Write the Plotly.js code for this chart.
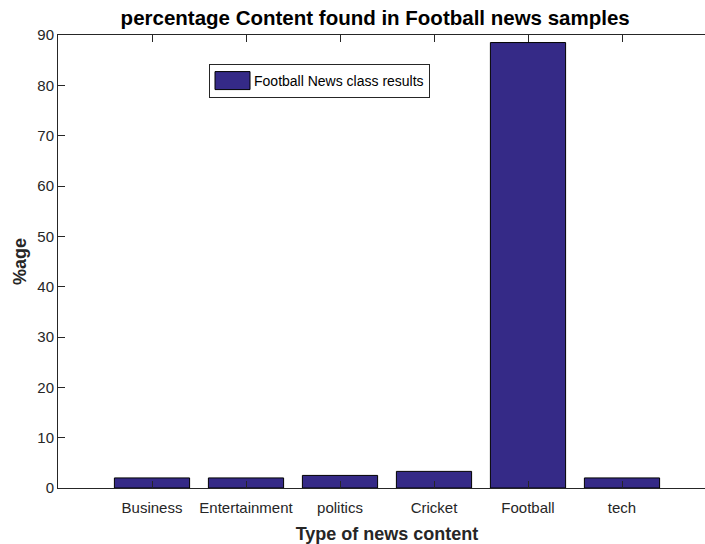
<!DOCTYPE html>
<html><head><meta charset="utf-8">
<script src="https://cdn.plot.ly/plotly-3.0.1.min.js"></script>
<style>html,body{margin:0;padding:0;background:#fff;overflow:hidden;width:705px;height:544px}</style>
</head><body>
<div id="chart" style="width:716px;height:544px"></div>
<script>
const categories = ["Business","Entertainment","politics","Cricket","Football","tech"];
const positions = [1,2,3,4,5,6];
const values = [2.0, 2.0, 2.5, 3.3, 88.5, 2.0];
const seriesName = "Football News class results";
const yTicks = [0,10,20,30,40,50,60,70,80,90];

const fontFam = '"Liberation Sans", Arial, Helvetica, sans-serif';

const trace = {
  type: 'bar', x: positions, y: values, name: seriesName, width: 0.8,
  marker: {color: '#352a87', line: {color: '#000000', width: 1}},
  showlegend: true
};

const layout = {
  width: 716, height: 544,
  margin: {l: 58, r: 0, t: 35, b: 56},
  paper_bgcolor: '#ffffff', plot_bgcolor: '#ffffff',
  font: {family: fontFam, size: 14, color: '#262626'},
  title: {text: '<b>percentage Content found in Football news samples</b>', xref: 'container', x: 0.524, xanchor: 'center',
          yref: 'container', y: 0.967, yanchor: 'middle',
          font: {family: fontFam, size: 20.5, color: '#000'}},
  xaxis: {
    range: [0, 7], tickmode: 'array', tickvals: positions, ticktext: categories,
    ticks: 'inside', ticklen: 7, tickcolor: '#262626', showline: true, linecolor: '#262626', linewidth: 1,
    mirror: 'allticks', showgrid: false, zeroline: false, fixedrange: true,
    ticklabelstandoff: 6,
    tickfont: {family: fontFam, size: 15, color: '#262626'},
    title: {text: '<b>Type of news content</b>', font: {family: fontFam, size: 18, color: '#262626'}, standoff: 14}
  },
  yaxis: {
    range: [0, 90], tickmode: 'array', tickvals: yTicks,
    ticks: 'inside', ticklen: 7, tickcolor: '#262626', showline: true, linecolor: '#262626', linewidth: 1,
    mirror: 'allticks', showgrid: false, zeroline: false, fixedrange: true,
    tickfont: {family: fontFam, size: 15, color: '#262626'},
    title: {text: '<b>%age</b>', font: {family: fontFam, size: 18, color: '#262626'}, standoff: 6}
  },
  showlegend: true,
  legend: {x: 0.2295, y: 0.936, xanchor: 'left', yanchor: 'top', bgcolor: '#ffffff', itemwidth: 34,
           bordercolor: '#262626', borderwidth: 1, font: {family: fontFam, size: 14, color: '#000'}},
  bargap: 0.2
};

Plotly.newPlot('chart', [trace], layout, {displayModeBar: false, staticPlot: true}).then(function(gd){
  // widen the legend swatch to a MATLAB-style rectangle
  gd.querySelectorAll('.legendpoints path').forEach(function(p){
    p.setAttribute('d', 'M-17,-9H18V9H-17Z');
  });
});
</script>
</body></html>
